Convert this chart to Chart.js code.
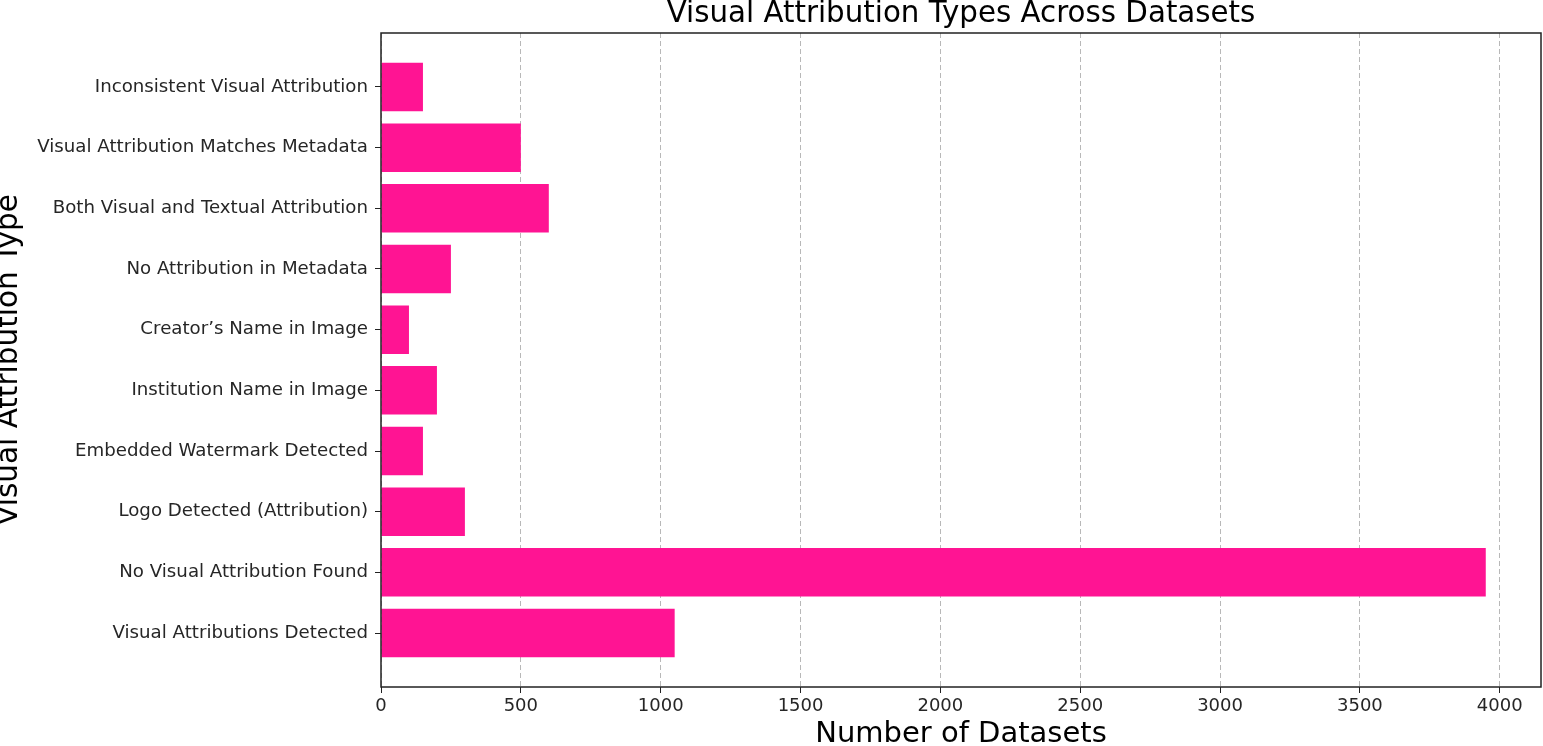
<!DOCTYPE html>
<html>
<head>
<meta charset="utf-8">
<script src="https://cdn.jsdelivr.net/npm/chart.js@4/dist/chart.umd.min.js"></script>
<style>
  html, body { margin: 0; padding: 0; background: #fff; }
  #chart { display: block; }
</style>
</head>
<body>
<canvas id="chart" width="1543" height="746"></canvas>
<script>
// Categories listed bottom to top, as they sit on the y axis
const CATEGORIES = [
    'Visual Attributions Detected',
    'No Visual Attribution Found',
    'Logo Detected (Attribution)',
    'Embedded Watermark Detected',
    'Institution Name in Image',
    'Creator\u2019s Name in Image',
    'No Attribution in Metadata',
    'Both Visual and Textual Attribution',
    'Visual Attribution Matches Metadata',
    'Inconsistent Visual Attribution'
];
const COUNTS = [1050, 3950, 300, 150, 200, 100, 250, 600, 500, 150];
const X_TICKS = [0, 500, 1000, 1500, 2000, 2500, 3000, 3500, 4000];

const FONT = 'DejaVu Sans';
const TEXT = '#262626';

// matplotlib-style frame around the plot area
const frame = {
    id: 'frame',
    afterDraw(chart) {
        const {ctx, chartArea: a} = chart;
        ctx.save();
        ctx.strokeStyle = '#222';
        ctx.lineWidth = 1.5;
        ctx.strokeRect(a.left, a.top, a.right - a.left, a.bottom - a.top);
        ctx.restore();
    }
};

const ctx = document.getElementById('chart').getContext('2d');
new Chart(ctx, {
    type: 'bar',
    data: {
        datasets: [{
            data: COUNTS.map((v, i) => ({x: v, y: i})),
            backgroundColor: '#FF1493',
            borderWidth: 0,
            categoryPercentage: 1,
            barPercentage: 0.8
        }]
    },
    options: {
        indexAxis: 'y',
        responsive: false,
        animation: false,
        layout: {
            padding: {left: 0, right: 2, top: 0, bottom: 0}
        },
        scales: {
            x: {
                type: 'linear',
                min: 0,
                max: 4147.5,
                afterBuildTicks: scale => {
                    scale.ticks = X_TICKS.map(v => ({value: v}));
                },
                afterFit: scale => {
                    scale.height = 59;
                },
                ticks: {
                    font: {family: FONT, size: 18},
                    color: TEXT,
                    padding: 3,
                    maxRotation: 0,
                    callback: value => String(value)
                },
                grid: {
                    color: '#b8b8b8',
                    lineWidth: 1,
                    tickColor: '#222',
                    tickLength: 6,
                    tickWidth: 1
                },
                border: {
                    display: false,
                    dash: [5, 3]
                },
                title: {
                    display: true,
                    text: 'Number of Datasets',
                    color: '#000',
                    font: {family: FONT, size: 29, lineHeight: 1},
                    padding: {top: 0, bottom: -2.5}
                }
            },
            // top axis only carries the chart title, centred over the plot area
            top: {
                type: 'linear',
                position: 'top',
                afterFit: scale => {
                    scale.height = 33;
                },
                ticks: {display: false},
                grid: {display: false},
                border: {display: false},
                title: {
                    display: true,
                    text: 'Visual Attribution Types Across Datasets',
                    color: '#000',
                    font: {family: FONT, size: 29.3, lineHeight: 1},
                    padding: {top: 0, bottom: 0}
                }
            },
            y: {
                type: 'linear',
                min: -0.89,
                max: 9.89,
                offset: false,
                afterBuildTicks: scale => {
                    scale.ticks = CATEGORIES.map((_, i) => ({value: i}));
                },
                afterFit: scale => {
                    scale.width = 381;
                },
                ticks: {
                    font: {family: FONT, size: 18.2},
                    color: TEXT,
                    padding: 7,
                    callback: value => CATEGORIES[value]
                },
                grid: {
                    offset: false,
                    drawOnChartArea: false,
                    tickColor: '#222',
                    tickLength: 6,
                    tickWidth: 1
                },
                border: {
                    display: false
                },
                title: {
                    display: true,
                    text: 'Visual Attribution Type',
                    color: '#000',
                    font: {family: FONT, size: 29.5, lineHeight: 1},
                    padding: {top: -5, bottom: 0}
                }
            }
        },
        plugins: {
            legend: {display: false},
            tooltip: {enabled: false},
            title: {display: false}
        }
    },
    plugins: [frame]
});
</script>
</body>
</html>
